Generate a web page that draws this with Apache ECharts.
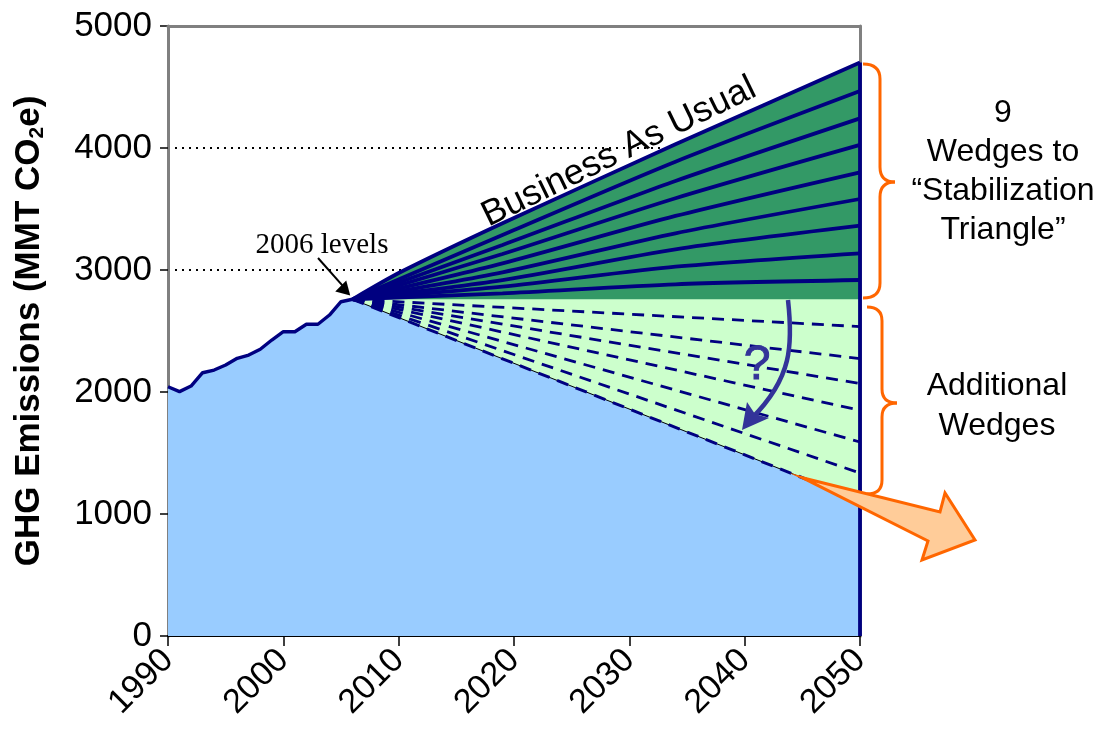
<!DOCTYPE html>
<html>
<head>
<meta charset="utf-8">
<script src="https://cdn.jsdelivr.net/npm/echarts@6/dist/echarts.min.js"></script>
<style>
html,body{margin:0;padding:0;background:#fff;}
#chart{width:1105px;height:742px;}
</style>
</head>
<body>
<div id="chart"></div>
<script>
// ---- data ----
const histYears  = [1990,1991,1992,1993,1994,1995,1996,1997,1998,1999,2000,2001,2002,2003,2004,2005,2006];
const histValues = [2043,2003,2049,2158,2180,2221,2276,2303,2350,2426,2494,2494,2555,2555,2631,2740,2760];

const bauYears  = [2006, 2010, 2019, 2034, 2050];
const bauValues = [2760, 2975, 3383, 4030, 4700];

const wedgeYears = [2006, 2019, 2034, 2050];
const wedge1 = [2760, 2809, 2883, 2918];
const wedge2 = [2760, 2863, 3027, 3137];
const wedge3 = [2760, 2918, 3170, 3363];
const wedge4 = [2760, 2981, 3301, 3582];
const wedge5 = [2760, 3055, 3443, 3801];
const wedge6 = [2760, 3131, 3588, 4025];
const wedge7 = [2760, 3205, 3730, 4243];
const wedge8 = [2760, 3287, 3888, 4467];

const baseYears = [2006, 2050];
const level2006 = [2760, 2760];

const addYears = [2006, 2050];
const addWedge1 = [2760, 2536];
const addWedge2 = [2760, 2274];
const addWedge3 = [2760, 2070];
const addWedge4 = [2760, 1850];
const addWedge5 = [2760, 1590];
const addWedge6 = [2760, 1336];
const addFloor  = [2760, 1110];

const xTicks = [1990, 2000, 2010, 2020, 2030, 2040, 2050];
const yTicks = [0, 1000, 2000, 3000, 4000, 5000];

// ---- helpers ----
const zip = (xs, ys) => xs.map((x, i) => [x, ys[i]]);
const NAVY = '#000080';
const FONT = 'Liberation Sans, Arial, sans-serif';

const chart = echarts.init(document.getElementById('chart'), null, {renderer: 'canvas'});

function lineSeries(data, style, extra) {
  return Object.assign({
    type: 'line', data: data, symbol: 'none', silent: true, animation: false,
    lineStyle: style, z: 3
  }, extra || {});
}

const floorData = zip(histYears, histValues).concat([[addYears[1], addFloor[1]]]);
const wedges = [wedge1, wedge2, wedge3, wedge4, wedge5, wedge6, wedge7, wedge8];
const addWedges = [addWedge1, addWedge2, addWedge3, addWedge4, addWedge5, addWedge6];

const series = [];
series.push(lineSeries(zip(bauYears, bauValues), {width: 0}, {areaStyle: {color: '#339966', opacity: 1}, z: 2}));
series.push(lineSeries(zip(baseYears, level2006), {width: 0}, {areaStyle: {color: '#CCFFCC', opacity: 1}, z: 2}));
series.push(lineSeries(floorData, {width: 0}, {areaStyle: {color: '#99CCFF', opacity: 1}, z: 2}));
addWedges.forEach(w => series.push(lineSeries(zip(addYears, w), {color: NAVY, width: 2.8, type: [12, 8]})));
series.push(lineSeries(zip(addYears, addFloor), {color: '#000000', width: 1}));
series.push(lineSeries(zip(addYears, addFloor), {color: NAVY, width: 3, type: [12, 8]}));
wedges.forEach(w => series.push(lineSeries(zip(wedgeYears, w), {color: NAVY, width: 3.8}, {smooth: 0.25})));
series.push(lineSeries(zip(bauYears, bauValues), {color: NAVY, width: 3.8}, {smooth: 0.2}));
series.push(lineSeries(zip(histYears, histValues), {color: NAVY, width: 3.4, join: 'round'}));
series.push(lineSeries([[2050, 0], [2050, bauValues[bauValues.length - 1]]], {color: NAVY, width: 3.8}));

const option = {
  backgroundColor: '#ffffff',
  animation: false,
  grid: {left: 168, right: 245, top: 26, bottom: 106, show: false},
  xAxis: [{
    type: 'value', min: xTicks[0], max: xTicks[xTicks.length - 1], interval: 10,
    axisLine: {show: true, lineStyle: {color: '#000', width: 2}},
    axisTick: {show: true, length: 10, inside: false, lineStyle: {color: '#000', width: 1.5}},
    axisLabel: {rotate: 45, fontSize: 34, fontFamily: FONT, color: '#000', margin: 19, formatter: v => String(v)},
    splitLine: {show: false}
  }, {
    type: 'value', position: 'top', min: xTicks[0], max: xTicks[xTicks.length - 1], z: 6,
    axisLine: {show: true, onZero: false, lineStyle: {color: '#808080', width: 3}},
    axisTick: {show: false}, axisLabel: {show: false}, splitLine: {show: false}
  }],
  yAxis: [{
    type: 'value', min: yTicks[0], max: yTicks[yTicks.length - 1], interval: 1000,
    name: 'GHG Emissions (MMT CO{sub|2}e)',
    nameLocation: 'middle', nameGap: 120,
    nameTextStyle: {fontSize: 35, fontWeight: 'bold', fontFamily: FONT, color: '#000',
      rich: {sub: {fontSize: 21, fontWeight: 'bold', fontFamily: FONT, color: '#000', padding: [16, 0, 0, 0]}}},
    axisLine: {show: true, lineStyle: {color: '#808080', width: 3}},
    axisTick: {show: true, length: 8, lineStyle: {color: '#000', width: 1.5}},
    axisLabel: {fontSize: 35, fontFamily: FONT, color: '#000', margin: 16, formatter: v => String(v)},
    splitLine: {show: true, lineStyle: {color: '#000', width: 1.8, type: [2, 5]}}
  }, {
    type: 'value', position: 'right', min: yTicks[0], max: yTicks[yTicks.length - 1], interval: 1000,
    axisLine: {show: true, onZero: false, lineStyle: {color: '#808080', width: 3}},
    axisTick: {show: false}, axisLabel: {show: false}, splitLine: {show: false}
  }],
  series: series
};
chart.setOption(option);

// ---- annotations anchored through the chart's own coordinate system ----
const P = (x, y) => chart.convertToPixel({gridIndex: 0}, [x, y]);
const bauStart = P(bauYears[0], bauValues[0]);
const bauEnd = P(bauYears[bauYears.length - 1], bauValues[bauValues.length - 1]);
const angle = Math.atan2(bauStart[1] - bauEnd[1], bauEnd[0] - bauStart[0]);
const tip2006 = P(2005.8, 2790);
const f = P(2045, addFloor[0] + (addFloor[1] - addFloor[0]) * (39 / 44));

const ORANGE = '#FF6600';
function brace(xL, yTop, yMid, yBot, xV, xTip, r) {
  const s = {stroke: ORANGE, lineWidth: 3, fill: null};
  return [
    {type: 'bezierCurve', z: 100, shape: {x1: xL, y1: yTop, x2: xV, y2: yTop + r, cpx1: xV, cpy1: yTop}, style: s},
    {type: 'line', z: 100, shape: {x1: xV, y1: yTop + r, x2: xV, y2: yMid - r}, style: s},
    {type: 'bezierCurve', z: 100, shape: {x1: xV, y1: yMid - r, x2: xTip, y2: yMid, cpx1: xV, cpy1: yMid}, style: s},
    {type: 'bezierCurve', z: 100, shape: {x1: xTip, y1: yMid, x2: xV, y2: yMid + r, cpx1: xV, cpy1: yMid}, style: s},
    {type: 'line', z: 100, shape: {x1: xV, y1: yMid + r, x2: xV, y2: yBot - r}, style: s},
    {type: 'bezierCurve', z: 100, shape: {x1: xV, y1: yBot - r, x2: xL, y2: yBot, cpx1: xV, cpy1: yBot}, style: s}
  ];
}

const graphics = [
  {type: 'text', x: 619, y: 152, rotation: angle * 1.04, z: 100,
   style: {text: 'Business As Usual', font: '36px ' + FONT, fill: '#000', align: 'center', verticalAlign: 'middle'}},
  {type: 'text', x: 322, y: 245, z: 100,
   style: {text: '2006 levels', font: '29px Liberation Serif, Times New Roman, serif', fill: '#000', align: 'center', verticalAlign: 'middle'}},
  {type: 'line', z: 100, shape: {x1: 318, y1: 258, x2: tip2006[0] - 5, y2: tip2006[1] - 7}, style: {stroke: '#000', lineWidth: 2}},
  {type: 'polygon', z: 100, shape: {points: [[tip2006[0], tip2006[1]], [tip2006[0] - 15, tip2006[1] - 4], [tip2006[0] - 4, tip2006[1] - 15]]}, style: {fill: '#000'}},
  {type: 'bezierCurve', z: 100, shape: {x1: 788, y1: 300, x2: 752, y2: 418, cpx1: 793, cpy1: 345, cpx2: 792, cpy2: 378}, style: {stroke: '#333399', lineWidth: 4.5, fill: null}},
  {type: 'polygon', z: 100, shape: {points: [[742, 430], [747, 402], [755, 414], [769, 418]]}, style: {fill: '#333399'}},
  {type: 'text', x: 757, y: 366, z: 100,
   style: {text: '?', font: '48px ' + FONT, fill: '#333399', align: 'center', verticalAlign: 'middle', stroke: '#333399', lineWidth: 1}}
].concat(brace(863, 64, 182, 298, 880, 895, 15))
 .concat(brace(867, 307, 403, 494, 882, 897, 14))
 .concat([
  {type: 'polygon', z: 101, shape: {points: [[f[0], f[1]], [940, 512], [945, 493], [975, 540], [922, 560], [928, 541]]},
   style: {fill: '#FFCC99', stroke: ORANGE, lineWidth: 3, lineJoin: 'miter'}},
  {type: 'text', x: 1003, y: 172, z: 100,
   style: {text: '9\nWedges to\n\u201CStabilization\nTriangle\u201D', font: '32px ' + FONT, lineHeight: 39, fill: '#000', align: 'center', verticalAlign: 'middle'}},
  {type: 'text', x: 997, y: 406, z: 100,
   style: {text: 'Additional\nWedges', font: '32px ' + FONT, lineHeight: 40, fill: '#000', align: 'center', verticalAlign: 'middle'}}
]);
chart.setOption({graphic: graphics});
</script>
</body>
</html>
